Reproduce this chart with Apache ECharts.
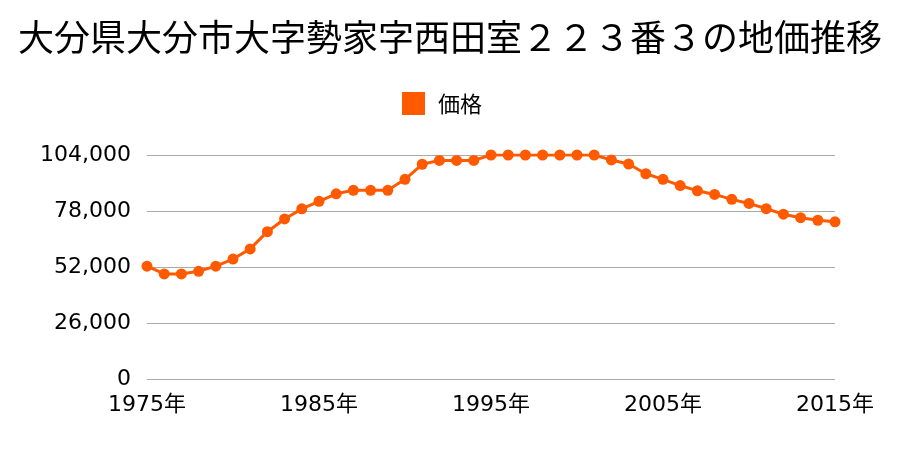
<!DOCTYPE html>
<html><head><meta charset="utf-8">
<script src="https://cdn.jsdelivr.net/npm/echarts@6/dist/echarts.min.js"></script>
<style>html,body{margin:0;padding:0;background:#fff}#c{width:900px;height:450px}</style>
</head><body><div id="c"></div>
<script>
const titleText = "大分県大分市大字勢家字西田室２２３番３の地価推移";
const seriesName = "価格";
const years = [1975,1976,1977,1978,1979,1980,1981,1982,1983,1984,1985,1986,1987,1988,1989,1990,1991,1992,1993,1994,1995,1996,1997,1998,1999,2000,2001,2002,2003,2004,2005,2006,2007,2008,2009,2010,2011,2012,2013,2014,2015];
const prices = [52400,48800,48800,50000,52400,55700,60400,68400,74300,79000,82500,86000,87600,87600,87600,92700,99700,101500,101500,101500,104000,104000,104000,104000,104000,104000,104000,101700,99800,95300,92700,89800,87400,85700,83400,81500,79100,76500,74900,73700,73000];
const yTicks = [0,26000,52000,78000,104000];
const xTicks = [1975,1985,1995,2005,2015];

const font = '"Noto Sans CJK JP", "Noto Sans", sans-serif';
const numFont = '"DejaVu Sans", "Noto Sans CJK JP", sans-serif';
const chart = echarts.init(document.getElementById('c'));
chart.setOption({
  animation:false,
  textStyle:{fontFamily:font},
  title:{text:titleText,left:'center',top:14,textStyle:{fontSize:36,fontWeight:'normal',color:'#000',fontFamily:font}},
  legend:{top:87,left:397,itemWidth:23,itemHeight:23,icon:'rect',itemGap:10,
    textStyle:{fontSize:22,color:'#000',fontFamily:font,padding:[0,0,0,8]},data:[{name:seriesName,itemStyle:{color:'#ff5a00'}}]},
  grid:{left:147,right:65,top:155,bottom:71,containLabel:false},
  xAxis:{type:'value',min:xTicks[0],max:xTicks[xTicks.length-1],interval:10,
    axisLine:{show:false},axisTick:{show:false},splitLine:{show:false},
    axisLabel:{fontSize:22,color:'#000',margin:15,fontFamily:numFont,formatter:v=>v+'年'}},
  yAxis:{type:'value',min:yTicks[0],max:yTicks[yTicks.length-1],interval:26000,
    axisLine:{show:false},axisTick:{show:false},
    splitLine:{lineStyle:{color:'#aaaaaa',width:1}},
    axisLabel:{fontSize:22,color:'#000',margin:16,fontFamily:numFont,
      formatter:v=>v.toLocaleString('en-US')}},
  series:[{name:seriesName,type:'line',data:years.map((y,i)=>[y,prices[i]]),
    symbol:'circle',symbolSize:11,lineStyle:{color:'#ff5a00',width:3},
    itemStyle:{color:'#ff5a00'}}]
});
</script></body></html>
